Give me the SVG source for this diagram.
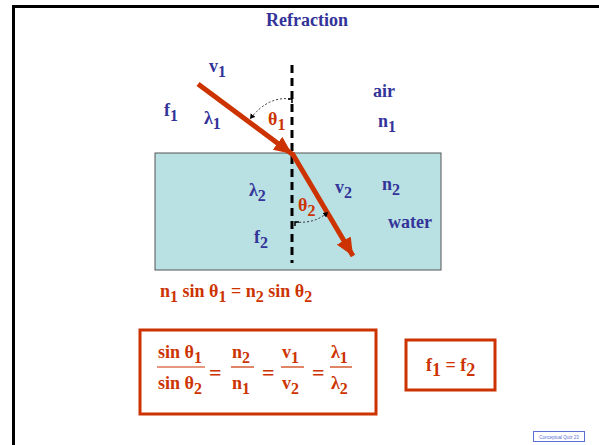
<svg xmlns="http://www.w3.org/2000/svg" width="599" height="445" viewBox="0 0 599 445">
<defs>
<marker id="ah" markerUnits="userSpaceOnUse" markerWidth="20" markerHeight="16" refX="18" refY="8" orient="auto">
<path d="M0,0 L18,8 L0,16 Z" fill="#cc3300"/>
</marker>
<marker id="sa" markerUnits="userSpaceOnUse" markerWidth="6" markerHeight="6" refX="5" refY="3" orient="auto">
<path d="M0,0 L5,3 L0,6 Z" fill="#000"/>
</marker>
<style>
.b{font-family:"Liberation Serif","Times New Roman",serif;font-weight:bold;fill:#333399;font-size:18px}
.r{font-family:"Liberation Serif","Times New Roman",serif;font-weight:bold;fill:#cc3300;font-size:18px}
.eq{font-size:22px}
.ray{stroke:#cc3300;stroke-width:5;fill:none;marker-end:url(#ah)}
.arc{stroke:#333;stroke-width:1;stroke-dasharray:2 2;fill:none;marker-end:url(#sa)}
.box{fill:none;stroke:#cc3300;stroke-width:3}
</style>
</defs>
<rect x="13.5" y="6.5" width="600" height="450" fill="#fff" stroke="#000" stroke-width="3"/>
<text class="b" x="307" y="26" text-anchor="middle">Refraction</text>
<g id="water">
<rect x="155" y="153" width="286" height="117" fill="#b9e0e3" stroke="#555" stroke-width="1"/>
</g>
<g id="normal">
<line x1="292" y1="65" x2="292" y2="263" stroke="#000" stroke-width="3" stroke-dasharray="8 5"/>
</g>
<g id="connectors">
<line class="ray" x1="198" y1="84" x2="292" y2="154"/>
<line class="ray" x1="292" y1="153" x2="353" y2="256"/>
<path class="arc" d="M290,99 Q268,96 250,119"/>
<path class="arc" d="M295,222 Q315,224 328,212"/>
<path d="M288,99 L292,99 L292,103" stroke="#000" stroke-width="1.5" fill="none"/>
<path d="M295,226 L295,222 L299,222" stroke="#000" stroke-width="1.5" fill="none"/>
</g>
<g id="labels">
<text class="b" x="209" y="72">v<tspan font-size="16" dy="5">1</tspan></text>
<text class="b" x="164" y="116">f<tspan font-size="16" dy="5">1</tspan></text>
<text class="b" x="204" y="124">λ<tspan font-size="16" dy="5">1</tspan></text>
<text class="r" x="268" y="125">θ<tspan font-size="16" dy="5">1</tspan></text>
<text class="b" x="373" y="97">air</text>
<text class="b" x="378" y="127">n<tspan font-size="16" dy="5">1</tspan></text>
<text class="b" x="249" y="196">λ<tspan font-size="16" dy="5">2</tspan></text>
<text class="r" x="298" y="211">θ<tspan font-size="16" dy="5">2</tspan></text>
<text class="b" x="335" y="193">v<tspan font-size="16" dy="5">2</tspan></text>
<text class="b" x="382" y="190">n<tspan font-size="16" dy="5">2</tspan></text>
<text class="b" x="388" y="228">water</text>
<text class="b" x="254" y="243">f<tspan font-size="16" dy="5">2</tspan></text>
</g>
<g id="snell">
<text class="r" x="160" y="297">n<tspan font-size="16" dy="5">1</tspan><tspan dy="-5"> sin θ</tspan><tspan font-size="16" dy="5">1</tspan><tspan dy="-5"> = n</tspan><tspan font-size="16" dy="5">2</tspan><tspan dy="-5"> sin θ</tspan><tspan font-size="16" dy="5">2</tspan></text>
</g>
<g id="ratios">
<rect class="box" x="140" y="330" width="236" height="84"/>
<text class="r" x="158" y="358">sin θ<tspan font-size="16" dy="5">1</tspan></text>
<line x1="157" y1="367" x2="205" y2="367" stroke="#cc3300" stroke-width="1.2"/>
<text class="r" x="158" y="389">sin θ<tspan font-size="16" dy="5">2</tspan></text>
<text class="r eq" x="209" y="380">=</text>
<text class="r" x="232" y="358">n<tspan font-size="16" dy="5">2</tspan></text>
<line x1="231" y1="367" x2="254" y2="367" stroke="#cc3300" stroke-width="1.2"/>
<text class="r" x="232" y="389">n<tspan font-size="16" dy="5">1</tspan></text>
<text class="r eq" x="262" y="380">=</text>
<text class="r" x="282" y="358">v<tspan font-size="16" dy="5">1</tspan></text>
<line x1="281" y1="367" x2="304" y2="367" stroke="#cc3300" stroke-width="1.2"/>
<text class="r" x="282" y="389">v<tspan font-size="16" dy="5">2</tspan></text>
<text class="r eq" x="312" y="380">=</text>
<text class="r" x="331" y="358">λ<tspan font-size="16" dy="5">1</tspan></text>
<line x1="330" y1="367" x2="352" y2="367" stroke="#cc3300" stroke-width="1.2"/>
<text class="r" x="331" y="389">λ<tspan font-size="16" dy="5">2</tspan></text>
</g>
<g id="freq">
<rect class="box" x="406" y="340" width="89" height="50"/>
<text class="r" x="426" y="371" font-size="20">f<tspan font-size="18" dy="5">1</tspan><tspan dy="-5"> = f</tspan><tspan font-size="18" dy="5">2</tspan></text>
</g>
<g id="footer">
<rect x="533.5" y="431.5" width="51" height="10" fill="#fff" stroke="#5b6fd6" stroke-width="1"/>
<text x="559" y="439" text-anchor="middle" font-family="Liberation Sans, Arial, sans-serif" font-size="4.5" fill="#5b6fd6">Conceptual  Quiz 23</text>
</g>
</svg>
